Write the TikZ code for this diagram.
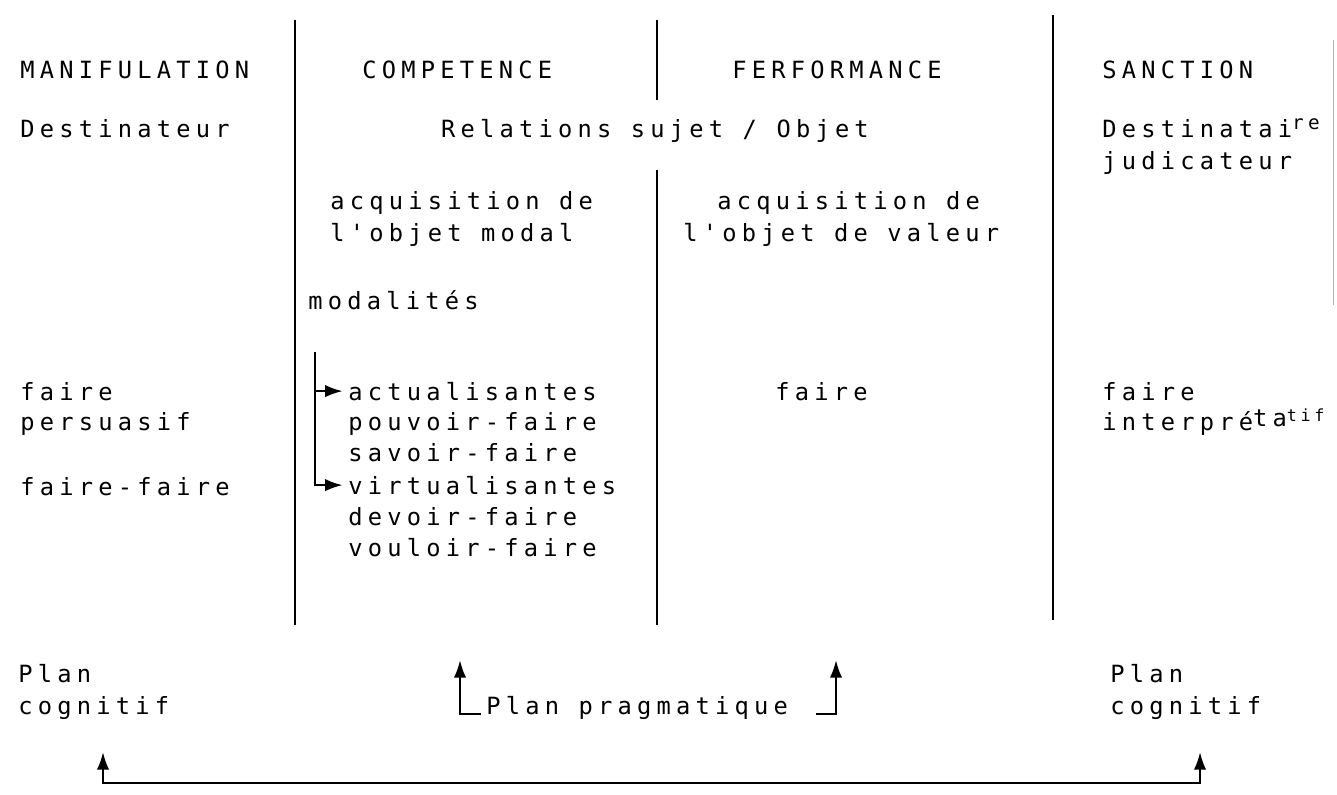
\documentclass[tikz,border=0pt]{standalone}
\usepackage{fontspec}
\newfontfamily\dotfont[LetterSpace=22]{DejaVu Sans Mono}
\usetikzlibrary{arrows,arrows.meta,positioning}

\begin{document}
\begin{tikzpicture}[x=0.02cm,y=-0.02cm,>={Latex[length=10pt,width=7pt]}]
\tikzstyle{every node}=[font=\dotfont\fontsize{13.5pt}{17.5pt}\selectfont,inner sep=0pt,anchor=base west]
\tikzstyle{sep}=[line width=1.3pt]
\tikzstyle{link}=[line width=1.3pt,->]
\useasboundingbox (0,0) rectangle (1337,794);

% column rules
\draw[sep] (295,20) -- (295,625);
\draw[sep] (657,20) -- (657,100);
\draw[sep] (657,170) -- (657,625);
\draw[sep] (1053,15) -- (1053,620);
\draw[gray!60,line width=0.3pt] (1333,40) -- (1333,305);

% headings
\node (manip) at (20,78) {MANIFULATION};
\node (compet) at (362,78) {COMPETENCE};
\node (perf) at (732,78) {FERFORMANCE};
\node (sanct) at (1102,78) {SANCTION};

% actants
\node (dest) at (20,137) {Destinateur};
\node[anchor=base] (rel) at (655,137) {Relations sujet / Objet};
\node (destre) at (1102,137) {Destinatai\raisebox{4pt}{\fontsize{11pt}{11pt}\selectfont re}};
\node (judic) at (1102,169) {judicateur};

% objets
\node (acqA) at (330,209) {acquisition de};
\node (objA) at (330,241) {l'objet modal};
\node (acqB) at (717,209) {acquisition de};
\node (objB) at (683,241) {l'objet de valeur};

% modalites
\node (moda) at (308,309) {modalités};
\node (actu) at (348,400) {actualisantes};
\node (pouv) at (348,430) {pouvoir-faire};
\node (sav) at (348,461) {savoir-faire};
\node (virt) at (348,494) {virtualisantes};
\node (dev) at (348,525) {devoir-faire};
\node (voul) at (348,556) {vouloir-faire};
\coordinate (brtop) at (315,352);
\draw[link,shorten >=3pt] (brtop) |- (actu.west);
\draw[link,shorten >=3pt] (brtop) |- (virt.west);

% faire
\node (fpA) at (20,400) {faire};
\node (fpB) at (20,430) {persuasif};
\node (ff) at (20,495) {faire-faire};
\node (fm) at (775,400) {faire};
\node (fiA) at (1102,400) {faire};
\node (fiB) at (1102,430) {interpré\raisebox{2pt}{ta}\raisebox{5pt}{\fontsize{9.5pt}{10pt}\selectfont tif}};

% plans
\node (planL) at (18,682) {Plan};
\node (cogL) at (18,714) {cognitif};
\node (planR) at (1110,682) {Plan};
\node (cogR) at (1110,714) {cognitif};
\node (prag) at (486,714) {Plan pragmatique};
\coordinate (pragL) at (460,660);
\coordinate (pragR) at (836,660);
\draw[link] ([xshift=-3pt]prag.base west) -| (pragL);
\draw[link] ([xshift=0.55cm]prag.base east) -| (pragR);
\coordinate (cL) at (103,752);
\coordinate (cR) at (1200,752);
\coordinate (bot) at (650,783);
\draw[link,<->] (cL) |- (bot) -| (cR);
\end{tikzpicture}
\end{document}
